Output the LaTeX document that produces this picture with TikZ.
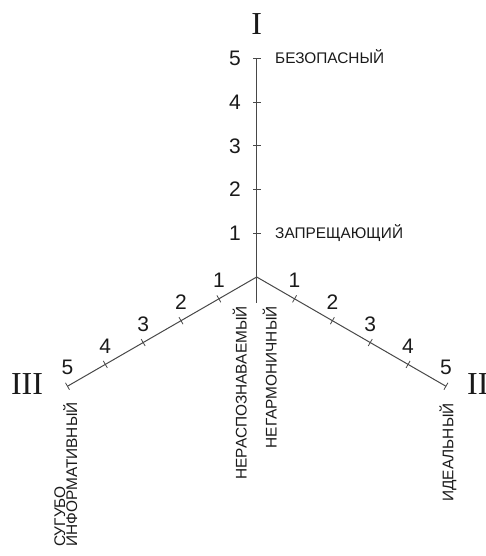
\documentclass[tikz,border=0pt]{standalone}
\usepackage{fontspec}
\setmainfont{Liberation Sans}
\newfontfamily\romanfont{Liberation Serif}
\usetikzlibrary{calc}
\definecolor{axiscol}{HTML}{484848}
\definecolor{txtcol}{HTML}{1A1A1A}
\begin{document}
\begin{tikzpicture}[x=1pt,y=1pt,
  axisline/.style={draw=axiscol, line width=1pt},
  tickline/.style={draw=axiscol, line width=0.8pt},
  numlabel/.style={text=txtcol, font=\fontsize{21}{24}\selectfont, inner sep=0pt},
  romlabel/.style={text=txtcol, font=\romanfont\fontsize{32}{36}\selectfont, inner sep=0pt},
  wordlabel/.style={text=txtcol, font=\fontsize{15.4}{18}\selectfont, inner sep=0pt},
]
\useasboundingbox (0,0) rectangle (485,556);
\def\axunit{43.7}
\coordinate (O) at (256.7,279);
\coordinate (E1) at ($(O)+(90:5*\axunit)$);
\coordinate (E2) at ($(O)+(-30:5*\axunit)$);
\coordinate (E3) at ($(O)+(210:5*\axunit)$);
\coordinate (S) at ($(O)+(0,-26)$);
% axes
\draw[axisline] (O) -- (E1);
\draw[axisline] (O) -- (E2);
\draw[axisline] (O) -- (E3);
\draw[axisline] (O) -- (S);
% ticks and numbers
\foreach \k in {1,...,5}{
  \coordinate (T1-\k) at ($(O)+(90:\k*\axunit)$);
  \coordinate (T2-\k) at ($(O)+(-30:\k*\axunit)$);
  \coordinate (T3-\k) at ($(O)+(210:\k*\axunit)$);
  \draw[tickline] ($(T1-\k)+(0:4)$) -- ($(T1-\k)+(180:4)$);
  \draw[tickline] ($(T2-\k)+(60:4)$) -- ($(T2-\k)+(240:4)$);
  \draw[tickline] ($(T3-\k)+(120:4)$) -- ($(T3-\k)+(300:4)$);
  \node[numlabel] (N1-\k) at ($(T1-\k)+(-21.7,0)$) {\k};
  \node[numlabel] (N2-\k) at ($(T2-\k)+(0,18.5)$) {\k};
  \node[numlabel] (N3-\k) at ($(T3-\k)+(0,18.5)$) {\k};
}
% roman numerals
\node[romlabel] (R1) at (256.7,532) {I};
\node[romlabel, anchor=west] (R2) at (467,172) {II};
\node[romlabel] (R3) at (27,172) {III};
% words
\node[wordlabel, anchor=base west] (w1a) at (275,492) {БЕЗОПАСНЫЙ};
\node[wordlabel, anchor=base west] (w1b) at (275,317) {ЗАПРЕЩАЮЩИЙ};
\node[wordlabel, anchor=base east, rotate=90] (w0a) at (246.7,250) {НЕРАСПОЗНАВАЕМЫЙ};
\node[wordlabel, anchor=base east, rotate=90] (w0b) at (276.7,250) {НЕГАРМОНИЧНЫЙ};
\node[wordlabel, anchor=base east, rotate=90] (w2) at (453.3,153) {ИДЕАЛЬНЫЙ};
\node[wordlabel, anchor=base east, rotate=90] (w3b) at (77,154) {ИНФОРМАТИВНЫЙ};
\node[wordlabel, anchor=base west, rotate=90] (w3a) at ($(w3b.base west)+(-12,0)$) {СУГУБО};
\end{tikzpicture}
\end{document}
